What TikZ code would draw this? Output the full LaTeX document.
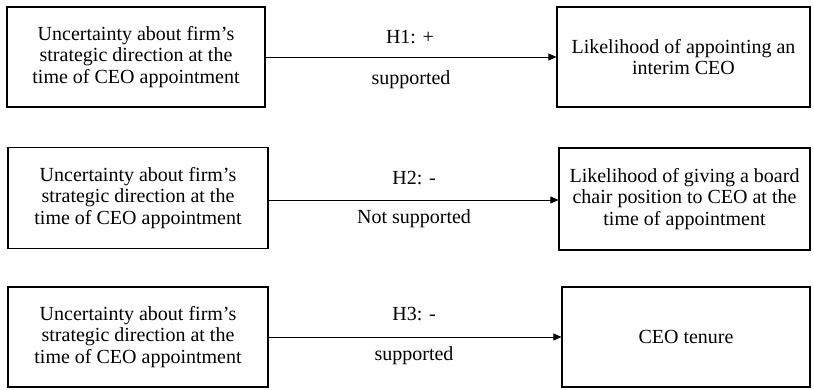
\documentclass[tikz,border=0pt]{standalone}
\usepackage{fontspec}
\setmainfont{Liberation Serif}
\usetikzlibrary{arrows.meta}
\begin{document}
\begin{tikzpicture}[x=1pt,y=-1pt,
  box/.style={draw,line width=1.2pt,inner sep=0pt,align=center,font=\fontsize{20}{21.5}\selectfont},
  lbl/.style={font=\fontsize{20}{21.5}\selectfont,inner sep=0pt},
  conn/.style={line width=0.8pt,-{Triangle[length=8pt,width=7pt]}}]
\useasboundingbox (0,0) rectangle (814,390);
% row 1
\node[box,minimum width=258pt,minimum height=100pt] (a1) at (136,57) {Uncertainty about firm’s\\strategic direction at the\\time of CEO appointment};
\node[box,minimum width=253pt,minimum height=100pt] (b1) at (683.5,57) {Likelihood of appointing an\\interim CEO};
\draw[conn] (a1.east) -- (b1.west);
\node[lbl] (h1) at (410,37) {H1: +};
\node[lbl] (s1) at (411,80) {supported};
% row 2
\node[box,minimum width=260pt,minimum height=101pt] (a2) at (138,198) {Uncertainty about firm’s\\strategic direction at the\\time of CEO appointment};
\node[box,minimum width=251pt,minimum height=102pt] (b2) at (684.5,199) {Likelihood of giving a board\\chair position to CEO at the\\time of appointment};
\draw[conn] (a2.east |- 0,200) -- (b2.west |- 0,200);
\node[lbl] (h2) at (414,178) {H2: -};
\node[lbl] (s2) at (414,219) {Not supported};
% row 3
\node[box,minimum width=260pt,minimum height=100pt] (a3) at (138,337) {Uncertainty about firm’s\\strategic direction at the\\time of CEO appointment};
\node[box,minimum width=248pt,minimum height=100pt] (b3) at (686,337) {CEO tenure};
\draw[conn] (a3.east) -- (b3.west);
\node[lbl] (h3) at (414,314) {H3: -};
\node[lbl] (s3) at (414,356) {supported};
\end{tikzpicture}
\end{document}
